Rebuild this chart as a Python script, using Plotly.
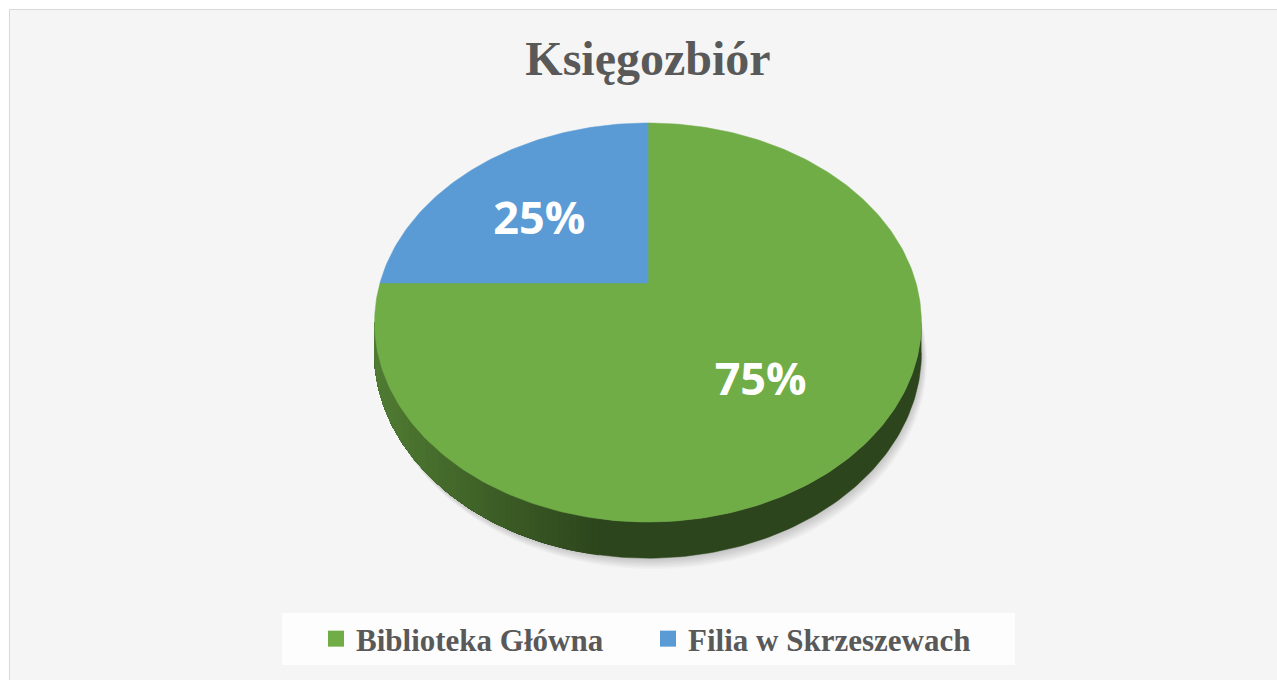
import math
import plotly.graph_objects as go

# ---- data ----
title_text = "Księgozbiór"
categories = ["Biblioteka Główna", "Filia w Skrzeszewach"]
values = [75, 25]
colors = ["#70AD47", "#5B9BD5"]

# ---- geometry of the 3D pie (screen px, perspective) ----
W, H = 1277, 680
CX, CY = 648.0, 283.0      # projected centre of the top face
A, B = 268.0, 191.7        # half-width / half-height scale
K = 0.198                  # perspective factor
DEPTH = 29.0               # thickness

def proj(theta_deg, r=1.0, drop=0.0):
    t = math.radians(theta_deg)
    u, v = r * math.sin(t), r * math.cos(t)
    w = 1 + K * v
    return CX + A * u / w, CY - B * v / w + drop / w

def shade(hexc, f):
    h = hexc.lstrip("#")
    r, g, b = (int(h[i:i + 2], 16) for i in (0, 2, 4))
    return "rgb(%d,%d,%d)" % (r * f, g * f, b * f)

total = float(sum(values))
bounds = []
acc = 0.0
for v in values:
    a0 = acc / total * 360.0
    acc += v
    bounds.append((a0, acc / total * 360.0))

theta_r = math.degrees(math.acos(-K))   # right silhouette
theta_l = 360.0 - theta_r               # left silhouette
XMIN = CX - A * 1.02
XSPAN = 2 * A * 1.02

fig = go.Figure()

# soft shadow under the pie
for s in range(1, 9):
    xs, ys = [], []
    for i in range(181):
        x, y = proj(i * 2.0, 1.0, DEPTH + s * 1.1)
        xs.append(x + s * 0.7)
        ys.append(y)
    fig.add_trace(go.Scatter(x=xs, y=ys, mode="lines", fill="toself",
                             fillcolor="rgba(0,0,0,0.022)", line=dict(width=0),
                             hoverinfo="skip", showlegend=False))

def wall(lo, hi, col):
    n = max(4, int((hi - lo) / 1.0))
    xs, ys = [], []
    for j in range(n + 1):
        x, y = proj(lo + (hi - lo) * j / n)
        xs.append(x); ys.append(y)
    for j in range(n, -1, -1):
        x, y = proj(lo + (hi - lo) * j / n, 1.0, DEPTH)
        xs.append(x); ys.append(y)
    fig.add_trace(go.Scatter(x=xs, y=ys, mode="lines", fill="toself",
                             fillcolor=col, line=dict(width=0.5, color=col),
                             hoverinfo="skip", showlegend=False))

# side walls (visible front part), layered gradient: dark base, lighter layers to the left
NLAYER = 40
for (a0, a1), col in zip(bounds, colors):
    lo, hi = max(a0, theta_r), min(a1, theta_l)
    if hi <= lo:
        continue
    wall(lo, hi, shade(col, 0.40))
    for i in range(NLAYER):
        t = 1.0 - (i + 1) / NLAYER           # 1 -> 0 (dark -> light)
        target_x = XMIN + XSPAN * 0.42 * t
        best, bestd = hi, 1e9
        for k2 in range(400):
            th = lo + (hi - lo) * k2 / 399
            d = abs(proj(th)[0] - target_x)
            if d < bestd:
                best, bestd = th, d
        if best >= hi - 0.01:
            continue
        f = 0.40 + (0.72 - 0.40) * (1 - t)
        wall(max(lo, best), hi, shade(col, f))

# top faces
for (a0, a1), col, name in zip(bounds, colors, categories):
    xs, ys = [CX], [CY]
    n = max(4, int((a1 - a0) / 1.0))
    for i in range(n + 1):
        x, y = proj(a0 + (a1 - a0) * i / n)
        xs.append(x); ys.append(y)
    xs.append(CX); ys.append(CY)
    fig.add_trace(go.Scatter(x=xs, y=ys, mode="lines", fill="toself",
                             fillcolor=col, line=dict(width=0.5, color=col),
                             name=name, hoverinfo="name", showlegend=False))

# percentage labels
lx, ly, lt = [], [], []
for (a0, a1), v in zip(bounds, values):
    x, y = proj((a0 + a1) / 2, 0.58, 14.0)
    lx.append(x - 7); ly.append(y)
    lt.append("%d%%" % round(v / total * 100))
fig.add_trace(go.Scatter(x=lx, y=ly, mode="text", text=lt,
                         textfont=dict(family="Open Sans", size=45, color="white", weight="bold"),
                         hoverinfo="skip", showlegend=False))

# legend entries
for name, col in zip(categories, colors):
    fig.add_trace(go.Scatter(x=[None], y=[None], mode="markers", name=name,
                             marker=dict(symbol="square", size=17, color=col)))

fig.update_layout(
    width=W, height=H,
    margin=dict(l=0, r=0, t=0, b=0),
    paper_bgcolor="white",
    plot_bgcolor="rgba(0,0,0,0)",
    xaxis=dict(range=[0, W], visible=False, fixedrange=True),
    yaxis=dict(range=[H, 0], visible=False, fixedrange=True),
    title=dict(text=title_text, x=648 / W, xanchor="center", y=1 - 58 / H, yanchor="middle",
               font=dict(family="Liberation Serif", size=48, color="#595959", weight="bold")),
    legend=dict(orientation="h", x=648 / W, xanchor="center", y=1 - 639 / H, yanchor="middle",
                bgcolor="rgba(0,0,0,0)", entrywidth=287,
                font=dict(family="Liberation Serif", size=31, color="#595959", weight="bold"),
                itemclick=False, itemdoubleclick=False),
    shapes=[
        dict(type="rect", xref="x", yref="y", x0=9.5, y0=9.5, x1=W + 5, y1=H + 5,
             fillcolor="#f5f5f5", line=dict(color="#d9d9d9", width=1), layer="below"),
        dict(type="rect", xref="x", yref="y", x0=282, y0=613, x1=1015, y1=665,
             fillcolor="#fdfdfd", line=dict(width=0), layer="below"),
    ],
    showlegend=True,
)

fig.write_html("out.html", config={"displayModeBar": False},
               post_script="document.body.style.margin='0';")
